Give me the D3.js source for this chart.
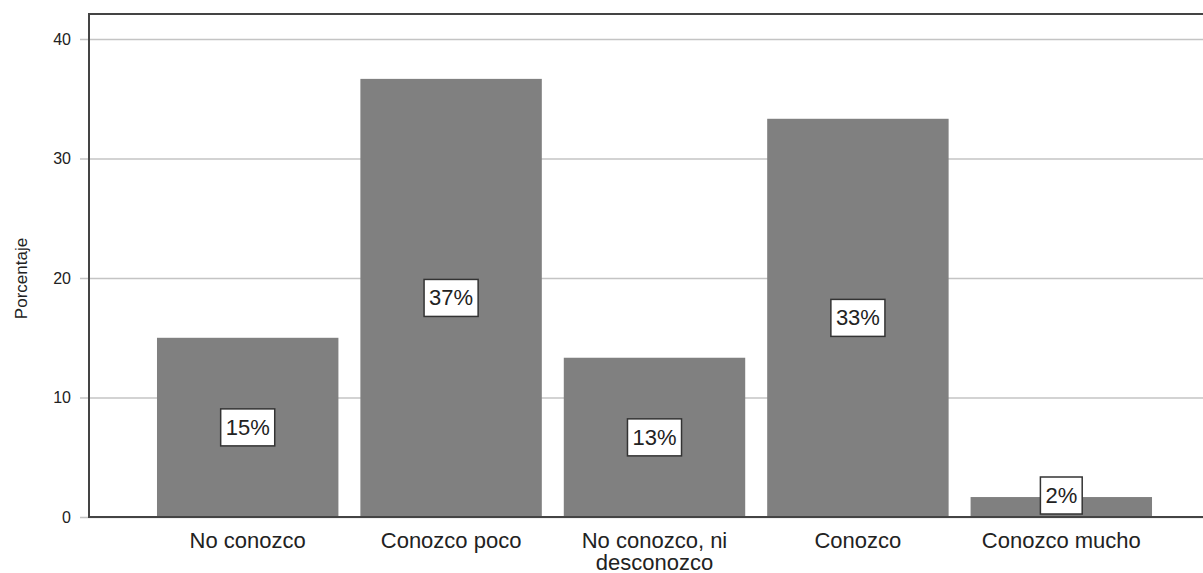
<!DOCTYPE html>
<html>
<head>
<meta charset="utf-8">
<script src="https://cdn.jsdelivr.net/npm/d3@7"></script>
<style>
  html, body { margin: 0; padding: 0; background: #fff; }
  svg { display: block; }
  text { font-family: "Liberation Sans", Arial, sans-serif; }
</style>
</head>
<body>
<svg id="chart" width="1203" height="573"></svg>
<script>
const categories = ["No conozco", "Conozco poco", "No conozco, ni desconozco", "Conozco", "Conozco mucho"];
const categoryLines = [["No conozco"], ["Conozco poco"], ["No conozco, ni", "desconozco"], ["Conozco"], ["Conozco mucho"]];
const percentages = [15.0, 36.67, 13.33, 33.33, 1.67];
const valueLabels = ["15%", "37%", "13%", "33%", "2%"];
const yTicks = [0, 10, 20, 30, 40];
const yTitle = "Porcentaje";

const svg = d3.select("#chart");
const W = 1203, H = 573;
const plotLeft = 89, plotTop = 14, plotBottom = 517, plotRight = 1203;

const y = d3.scaleLinear().domain([0, 42.1]).range([plotBottom, plotTop]);
const x = d3.scaleBand().domain(categories).range([146, 1163]).paddingInner(0.108).paddingOuter(0.054);

// gridlines + tick marks
const yAxis = d3.axisLeft(y).tickValues(yTicks).tickSize(-(plotRight - plotLeft + 9)).tickPadding(8).tickFormat(d3.format("d"));
const gy = svg.append("g").attr("transform", `translate(${plotLeft},0)`);
gy.call(yAxis);
gy.select(".domain").remove();
gy.selectAll(".tick line")
  .attr("x1", -9)
  .attr("x2", plotRight - plotLeft)
  .attr("stroke", "#c4c4c4")
  .attr("stroke-width", 1.5);
gy.selectAll(".tick text")
  .attr("x", -18)
  .attr("fill", "#222")
  .style("font-size", "16px")
  .style("font-family", "'Liberation Sans', Arial, sans-serif");

// bars
svg.append("g").selectAll("rect").data(categories).join("rect")
  .attr("x", d => x(d))
  .attr("width", x.bandwidth())
  .attr("y", (d, i) => y(percentages[i]))
  .attr("height", (d, i) => y(0) - y(percentages[i]))
  .attr("fill", "#808080");

// frame
svg.append("line").attr("x1", plotLeft).attr("x2", plotLeft).attr("y1", plotTop).attr("y2", plotBottom)
  .attr("stroke", "#444").attr("stroke-width", 2);
svg.append("line").attr("x1", plotLeft - 1).attr("x2", plotRight).attr("y1", plotTop).attr("y2", plotTop)
  .attr("stroke", "#444").attr("stroke-width", 2);
svg.append("line").attr("x1", plotLeft - 1).attr("x2", plotRight).attr("y1", plotBottom).attr("y2", plotBottom)
  .attr("stroke", "#444").attr("stroke-width", 2);

// value labels
const lg = svg.append("g");
categories.forEach((c, i) => {
  const cx = x(c) + x.bandwidth() / 2;
  const boxH = 37;
  let cy = (y(percentages[i]) + y(0)) / 2;
  cy = Math.min(cy, y(0) - boxH / 2 - 3);
  const g = lg.append("g");
  const t = g.append("text")
    .attr("x", cx).attr("y", cy)
    .attr("text-anchor", "middle")
    .attr("dominant-baseline", "central")
    .attr("fill", "#222")
    .style("font-size", "22px")
    .text(valueLabels[i]);
  const bb = t.node().getBBox();
  const padX = 5;
  g.insert("rect", "text")
    .attr("x", cx - bb.width / 2 - padX)
    .attr("y", cy - boxH / 2)
    .attr("width", bb.width + padX * 2)
    .attr("height", boxH)
    .attr("fill", "#fff")
    .attr("stroke", "#333")
    .attr("stroke-width", 1.5);
});

// category labels
const cg = svg.append("g");
categories.forEach((c, i) => {
  const cx = x(c) + x.bandwidth() / 2;
  categoryLines[i].forEach((ln, j) => {
    cg.append("text")
      .attr("x", cx).attr("y", 548 + j * 22)
      .attr("text-anchor", "middle")
      .attr("fill", "#222")
      .style("font-size", "22px")
      .text(ln);
  });
});

// y title
svg.append("text")
  .attr("transform", `translate(27,${(plotTop + plotBottom) / 2 + 13}) rotate(-90)`)
  .attr("text-anchor", "middle")
  .attr("fill", "#222")
  .style("font-size", "17px")
  .text(yTitle);
</script>
</body>
</html>
